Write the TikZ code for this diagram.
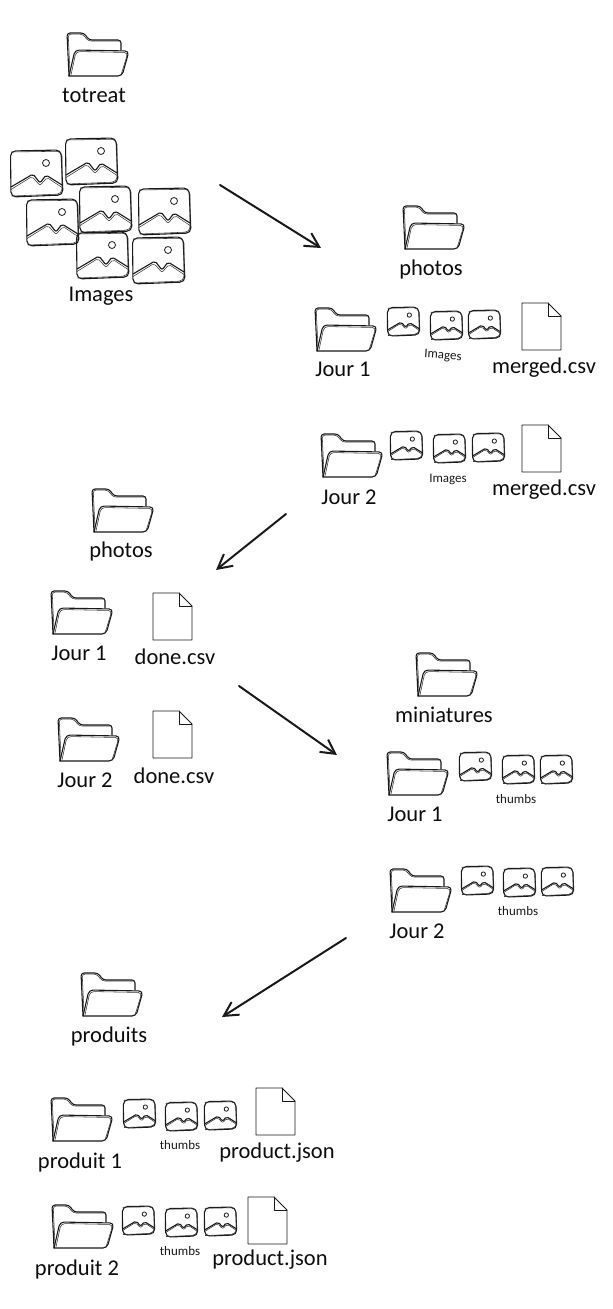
\documentclass[tikz,border=0pt]{standalone}
\usepackage{fontspec}
\setmainfont{Carlito}
\usetikzlibrary{arrows.meta}
\tikzset{
  inkline/.style={line width=1.1pt, draw=black!90, line join=round, line cap=round},
  inkthin/.style={line width=0.55pt, draw=black!80, line join=round, line cap=round},
  biglabel/.style={inner sep=0pt, font=\fontsize{22.5}{22.5}\selectfont, text=black!95},
  smalllabel/.style={inner sep=0pt, font=\fontsize{13}{13}\selectfont, text=black!90},
  flowarrow/.style={line width=2pt, draw=black!90, line cap=round, -{Straight Barb[length=14pt,width=15pt,line width=2pt]}},
  folderbox/.pic={
    \draw [inkline, rounded corners=3pt] (3,44) -- (1,1) -- (18,1) -- (23,8) -- (55,8) -- (55,18);%
    \draw [inkline, rounded corners=4pt] (3,44) -- (9,18) -- (63,19) -- (56,44) -- (3,44);%
    \draw [inkthin, rounded corners=3pt] (4,41) -- (2.2,2) -- (17,2.2) -- (22,9) -- (54,9);%
    \draw [inkthin, rounded corners=4pt] (5,43) -- (10,19.5) -- (62,20.5) -- (55,43);%
  },
  imagebox/.pic={
    \draw [inkline, rounded corners=5pt] (0.5,1) -- (51,0) -- (53,45) -- (1,47) -- cycle;%
    \draw [inkthin, rounded corners=5pt] (1.5,2) -- (52,1.2) -- (52,44) -- (2,46);%
    \draw [inkline, line width=0.8pt] (36,13) circle (3.5);%
    \draw [inkline, rounded corners=2pt] (1,37) -- (23,24) -- (30,33) -- (36,25) -- (52,35);%
    \draw [inkthin, rounded corners=2pt] (1,39.5) -- (22,26.5) -- (30,35.5) -- (37,27.5) -- (52,37.5);%
  },
  docbox/.pic={
    \draw [inkline, line width=0.8pt] (0,0) -- (26,0) -- (39,13) -- (39,47) -- (0,47) -- cycle;%
    \draw [inkline, line width=0.8pt] (26,0) -- (26,13) -- (39,13);%
  }
}
\begin{document}
\begin{tikzpicture}[x=1pt,y=-1pt]
  \useasboundingbox (0,0) rectangle (613,1309);

  % First group: totreat
  \pic at (66,32) {folderbox};
  \node [biglabel] (totreat) at (94,95) {totreat};
  \pic at (10,150) {imagebox};
  \pic at (65,138) {imagebox};
  \pic at (26,199) {imagebox};
  \pic at (79,186) {imagebox};
  \pic at (138,188) {imagebox};
  \pic at (76,232) {imagebox};
  \pic at (132,237) {imagebox};
  \node [biglabel] (images) at (101,296) {Images};

  % Second group: photos with images
  \pic at (402,205) {folderbox};
  \node [biglabel] (photosa) at (431,269) {photos};
  \pic at (314,307) {folderbox};
  \node [biglabel] (joura) at (343,369) {Jour 1};
  \pic [scale=0.62] at (387,307) {imagebox};
  \pic [scale=0.62] at (430,311) {imagebox};
  \pic [scale=0.62] at (468,310) {imagebox};
  \node [smalllabel, rotate=-4] (imagesa) at (443,356) {Images};
  \pic at (522,303) {docbox};
  \node [biglabel] (mergeda) at (544,368) {merged.csv};

  \pic at (320,433) {folderbox};
  \node [biglabel] (jourb) at (349,497) {Jour 2};
  \pic [scale=0.62] at (390,431) {imagebox};
  \pic [scale=0.62] at (433,434) {imagebox};
  \pic [scale=0.62] at (472,433) {imagebox};
  \node [smalllabel] (imagesb) at (448,479) {Images};
  \pic at (522,425) {docbox};
  \node [biglabel] (mergedb) at (544,490) {merged.csv};

  % Third group: photos with done files
  \pic at (91,488) {folderbox};
  \node [biglabel] (photosb) at (121,551) {photos};
  \pic at (50,590) {folderbox};
  \node [biglabel] (jourc) at (79,653) {Jour 1};
  \pic at (153,593) {docbox};
  \node [biglabel] (donea) at (175,657) {done.csv};
  \pic at (57,717) {folderbox};
  \node [biglabel] (jourd) at (85,780) {Jour 2};
  \pic at (153,711) {docbox};
  \node [biglabel] (doneb) at (174,776) {done.csv};

  % Fourth group: miniatures
  \pic at (415,652) {folderbox};
  \node [biglabel] (miniatures) at (444,715) {miniatures};
  \pic at (386,751) {folderbox};
  \node [biglabel] (joure) at (415,814) {Jour 1};
  \pic [scale=0.62] at (459,752) {imagebox};
  \pic [scale=0.62] at (502,755) {imagebox};
  \pic [scale=0.62] at (540,755) {imagebox};
  \node [smalllabel] (thumbsa) at (516,799) {thumbs};
  \pic at (389,868) {folderbox};
  \node [biglabel] (jourf) at (417,931) {Jour 2};
  \pic [scale=0.62] at (461,866) {imagebox};
  \pic [scale=0.62] at (503,868) {imagebox};
  \pic [scale=0.62] at (541,867) {imagebox};
  \node [smalllabel] (thumbsb) at (518,911) {thumbs};

  % Fifth group: produits
  \pic at (80,972) {folderbox};
  \node [biglabel] (produits) at (109,1036) {produits};
  \pic at (50,1097) {folderbox};
  \node [biglabel] (produita) at (80,1162) {produit 1};
  \pic [scale=0.62] at (123,1099) {imagebox};
  \pic [scale=0.62] at (165,1102) {imagebox};
  \pic [scale=0.62] at (204,1101) {imagebox};
  \node [smalllabel] (thumbsc) at (180,1145) {thumbs};
  \pic at (256,1088) {docbox};
  \node [biglabel] (producta) at (277,1153) {product.json};
  \pic at (51,1204) {folderbox};
  \node [biglabel] (produitb) at (77,1269) {produit 2};
  \pic [scale=0.62] at (122,1206) {imagebox};
  \pic [scale=0.62] at (165,1208) {imagebox};
  \pic [scale=0.62] at (204,1207) {imagebox};
  \node [smalllabel] (thumbsd) at (180,1251) {thumbs};
  \pic at (248,1197) {docbox};
  \node [biglabel] (productb) at (270,1260) {product.json};

  % Arrows between the groups
  \coordinate (arrowa1) at (220,185);
  \coordinate (arrowa2) at (321,248);
  \coordinate (arrowb1) at (286,514);
  \coordinate (arrowb2) at (216,570);
  \coordinate (arrowc1) at (239,686);
  \coordinate (arrowc2) at (337,755);
  \coordinate (arrowd1) at (346,938);
  \coordinate (arrowd2) at (222,1017);
  \draw [flowarrow] (arrowa1) -- (arrowa2);%
  \draw [flowarrow] (arrowb1) -- (arrowb2);%
  \draw [flowarrow] (arrowc1) -- (arrowc2);%
  \draw [flowarrow] (arrowd1) -- (arrowd2);%
\end{tikzpicture}
\end{document}
